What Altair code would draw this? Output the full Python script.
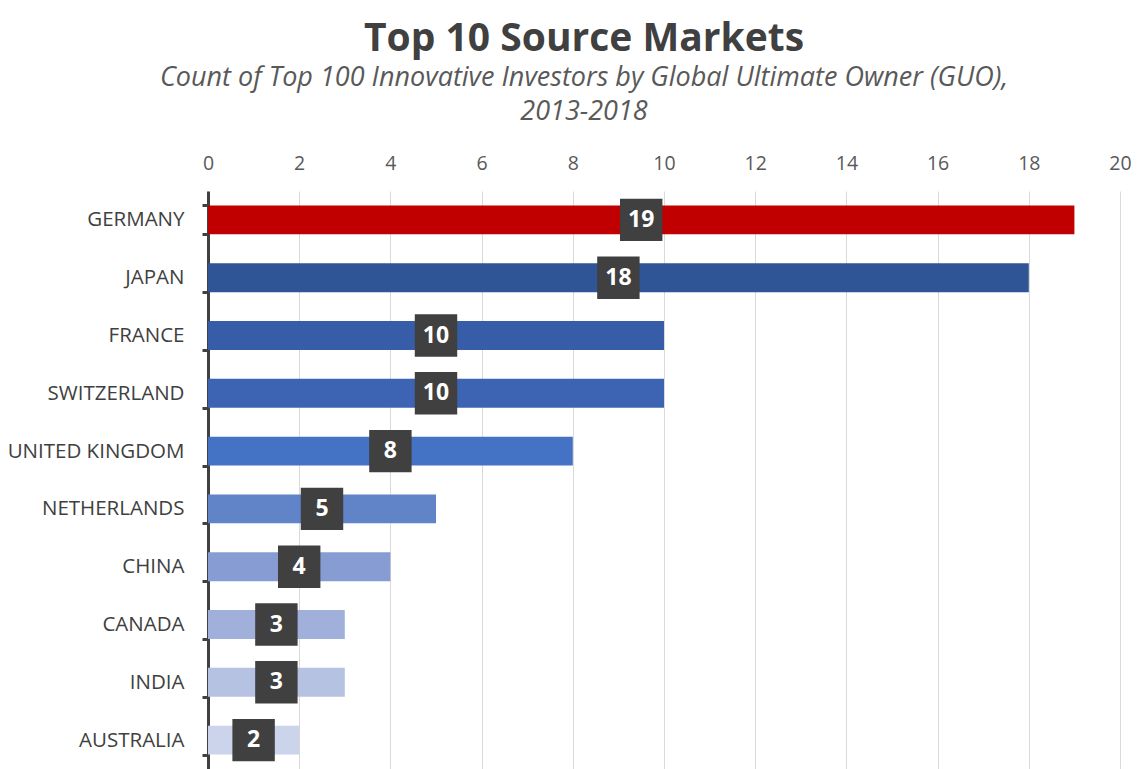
import altair as alt
import pandas as pd

countries = ["GERMANY", "JAPAN", "FRANCE", "SWITZERLAND", "UNITED KINGDOM",
             "NETHERLANDS", "CHINA", "CANADA", "INDIA", "AUSTRALIA"]
counts = [19, 18, 10, 10, 8, 5, 4, 3, 3, 2]
palette = ["#C00000", "#2F5597", "#385DA8", "#3C64B2", "#4472C4",
           "#6183C8", "#869CD3", "#A1B0DA", "#B5C2E1", "#CCD4EB"]

df = pd.DataFrame({"country": countries, "count": counts})

FONT = "Open Sans"

y = alt.Y("country:N", sort=countries, title=None,
          scale=alt.Scale(paddingInner=0.5, paddingOuter=0.25),
          axis=alt.Axis(labelFont=FONT, labelFontSize=20.5, labelColor="#404040",
                        labelPadding=18, tickBand="extent", tickSize=6,
                        tickWidth=3, tickColor="#404040", domainColor="#404040",
                        domainWidth=3, grid=False))

x = alt.X("count:Q", title=None,
          scale=alt.Scale(domain=[0, 20], nice=False),
          axis=alt.Axis(orient="top", values=list(range(0, 21, 2)),
                        labelFont=FONT, labelFontSize=19.5, labelColor="#595959",
                        labelPadding=18, labelFlush=False, ticks=False, domain=False,
                        grid=True, gridColor="#D9D9D9", gridWidth=1))

bars = alt.Chart(df).mark_bar().encode(
    x=x, y=y,
    color=alt.Color("country:N", scale=alt.Scale(domain=countries, range=palette),
                    legend=None),
)

base = alt.Chart(df).transform_calculate(mid="datum.count / 2")

boxes = base.mark_square(size=1800, color="#404040", opacity=1, filled=True).encode(
    x=alt.X("mid:Q"), y=alt.Y("country:N", sort=countries)
)

labels = base.mark_text(color="white", font=FONT, fontSize=23, fontWeight="bold",
                        baseline="middle", align="center").encode(
    x=alt.X("mid:Q"), y=alt.Y("country:N", sort=countries), text="count:Q"
)

chart = alt.layer(bars, boxes, labels).properties(
    width=912, height=578,
    autosize=alt.AutoSizeParams(type="none"),
    padding={"left": 200, "top": 183, "right": 11, "bottom": 0},
    title=alt.TitleParams(
        text="Top 10 Source Markets",
        subtitle=["Count of Top 100 Innovative Investors by Global Ultimate Owner (GUO),",
                  "2013-2018"],
        font=FONT, fontSize=39, fontWeight="bold", color="#404040",
        subtitleFont=FONT, subtitleFontSize=27, subtitleFontStyle="italic",
        subtitleColor="#595959", subtitleLineHeight=34, subtitlePadding=6,
        anchor="middle", dx=-80, offset=28,
    ),
).configure_view(stroke=None)

chart.save("out.html", embed_options={"renderer": "svg", "actions": False})
